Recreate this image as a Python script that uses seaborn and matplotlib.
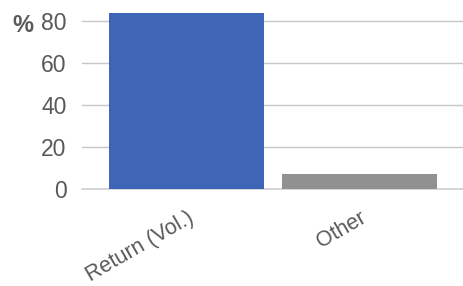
import matplotlib
matplotlib.use("Agg")
import matplotlib.pyplot as plt
import seaborn as sns
import pandas as pd

# Chart data
categories = ["Return (Vol.)", "Other"]
values = [84, 7]
bar_colors = ["#3F65B7", "#919191"]
y_ticks = [0, 20, 40, 60, 80]

sns.set_style("white")
plt.rcParams['font.family'] = ['Liberation Sans', 'DejaVu Sans']

df = pd.DataFrame({"category": categories, "value": values})

fig = plt.figure(figsize=(4.64, 2.86), dpi=100)
ax = fig.add_axes([82 / 464, 97 / 286, 382 / 464, 184.8 / 286])

sns.barplot(data=df, x="category", y="value", hue="category",
            palette=bar_colors, saturation=1, width=0.9, linewidth=0,
            legend=False, ax=ax, zorder=3)

ax.set_xlim(-0.605, 1.605)
ax.set_ylim(0, 88)
ax.set_yticks(y_ticks)
ax.yaxis.grid(True, color="#C6C6C6", linewidth=1)
ax.set_axisbelow(True)
for s in ["top", "right", "left"]:
    ax.spines[s].set_visible(False)
ax.spines["bottom"].set_color("#D0D0D0")
ax.spines["bottom"].set_linewidth(1.2)

ax.set_xlabel("")
ax.set_ylabel("")
ax.tick_params(axis="y", length=0, pad=11, labelsize=16.5, labelcolor="#595959")
ax.tick_params(axis="x", length=0, pad=13, labelsize=15.5, labelcolor="#595959")
for lbl in ax.get_xticklabels():
    lbl.set_rotation(30)
    lbl.set_ha("right")
    lbl.set_rotation_mode("anchor")

fig.text(12 / 464, 1 - 32 / 286, "%", fontsize=17, fontweight="bold",
         color="#595959", ha="left", va="baseline")

fig.savefig("out.png", dpi=100)
plt.close(fig)
